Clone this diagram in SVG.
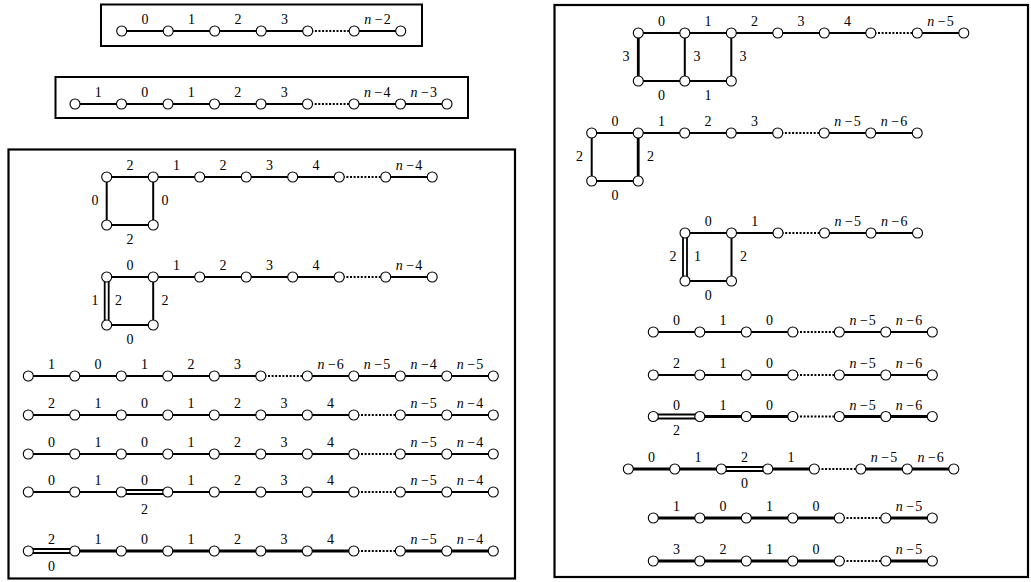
<svg xmlns="http://www.w3.org/2000/svg" width="1031" height="582" viewBox="0 0 1031 582">
<style>
text{font-family:"Liberation Serif","DejaVu Serif",serif;font-size:14px;text-anchor:middle;fill:#000}
.i{font-style:italic}
.box{fill:none;stroke:#000;stroke-width:2.2}
.bs{fill:none;stroke:#000;stroke-width:2}
#edges path{fill:none;stroke:#000;stroke-width:2}
#edges path.t{stroke-width:2.8}
#edges path.d{stroke-dasharray:2 1.6;stroke-width:2}
#edges path.w{stroke-width:1.8}
circle{fill:#fff;stroke:#000;stroke-width:1.1}
</style>
<rect class="bs" x="101" y="4.5" width="321" height="41.5"/>
<rect class="bs" x="55.5" y="77" width="412.5" height="41"/>
<rect class="box" x="8.5" y="149.5" width="506.5" height="429"/>
<rect class="box" x="554.5" y="5" width="473.5" height="572"/>
<g id="edges">
<!-- box1 -->
<path d="M121.7 31H168.2"/><path d="M168.2 31H214.7"/><path d="M214.7 31H261.2"/><path d="M261.2 31H307.7"/><path class="d" d="M307.7 31H354.2"/><path d="M354.2 31H400.7"/>
<!-- box2 -->
<path d="M75 104H121.5"/><path d="M121.5 104H168"/><path d="M168 104H214.5"/><path d="M214.5 104H261"/><path d="M261 104H307.5"/><path class="d" d="M307.5 104H354"/><path d="M354 104H400.5"/><path d="M400.5 104H447"/>
<!-- LS1 -->
<path d="M106.7 177H153.2"/><path d="M153.2 177H199.7"/><path d="M199.7 177H246.2"/><path d="M246.2 177H292.7"/><path d="M292.7 177H339.2"/><path class="d" d="M339.2 177H385.7"/><path d="M385.7 177H432.2"/>
<path d="M106.7 177V225"/><path d="M153.2 177V225"/><path d="M106.7 225H153.2"/>
<!-- LS2 -->
<path d="M106.7 277H153.2"/><path d="M153.2 277H199.7"/><path d="M199.7 277H246.2"/><path d="M246.2 277H292.7"/><path d="M292.7 277H339.2"/><path class="d" d="M339.2 277H385.7"/><path d="M385.7 277H432.2"/>
<path class="w" d="M104.7 277V325M108.7 277V325"/><path d="M153.2 277V325"/><path d="M106.7 325H153.2"/>
<!-- row A -->
<path d="M28.3 376H74.8"/><path d="M74.8 376H121.3"/><path d="M121.3 376H167.8"/><path d="M167.8 376H214.3"/><path d="M214.3 376H260.8"/><path class="d" d="M260.8 376H307.3"/><path d="M307.3 376H353.8"/><path d="M353.8 376H400.3"/><path d="M400.3 376H446.8"/><path d="M446.8 376H493.3"/>
<!-- row B -->
<path d="M28.3 415H74.8"/><path d="M74.8 415H121.3"/><path d="M121.3 415H167.8"/><path d="M167.8 415H214.3"/><path d="M214.3 415H260.8"/><path d="M260.8 415H307.3"/><path d="M307.3 415H353.8"/><path class="d" d="M353.8 415H400.3"/><path d="M400.3 415H446.8"/><path d="M446.8 415H493.3"/>
<!-- row C -->
<path d="M28.3 454H74.8"/><path d="M74.8 454H121.3"/><path d="M121.3 454H167.8"/><path d="M167.8 454H214.3"/><path d="M214.3 454H260.8"/><path d="M260.8 454H307.3"/><path d="M307.3 454H353.8"/><path class="d" d="M353.8 454H400.3"/><path d="M400.3 454H446.8"/><path d="M446.8 454H493.3"/>
<!-- row D -->
<path d="M28.3 492H74.8"/><path d="M74.8 492H121.3"/><path class="w" d="M121.3 490H167.8M121.3 494H167.8"/><path d="M167.8 492H214.3"/><path d="M214.3 492H260.8"/><path d="M260.8 492H307.3"/><path d="M307.3 492H353.8"/><path class="d" d="M353.8 492H400.3"/><path d="M400.3 492H446.8"/><path d="M446.8 492H493.3"/>
<!-- row E -->
<path class="w" d="M28.3 549H74.8M28.3 553H74.8"/><path class="t" d="M74.8 551H121.3"/><path class="t" d="M121.3 551H167.8"/><path class="t" d="M167.8 551H214.3"/><path class="t" d="M214.3 551H260.8"/><path class="t" d="M260.8 551H307.3"/><path class="t" d="M307.3 551H353.8"/><path class="d" d="M353.8 551H400.3"/><path class="t" d="M400.3 551H446.8"/><path class="t" d="M446.8 551H493.3"/>
<!-- R1 -->
<path d="M638.3 33H684.8"/><path d="M684.8 33H731.3"/><path d="M731.3 33H777.8"/><path d="M777.8 33H824.3"/><path d="M824.3 33H870.8"/><path class="d" d="M870.8 33H917.3"/><path d="M917.3 33H963.8"/>
<path class="t" d="M638.3 33V81"/><path d="M684.8 33V81"/><path d="M731.3 33V81"/><path d="M638.3 81H684.8"/><path d="M684.8 81H731.3"/>
<!-- R2 -->
<path d="M591.7 133H638.2"/><path d="M638.2 133H684.7"/><path d="M684.7 133H731.2"/><path d="M731.2 133H777.7"/><path class="d" d="M777.7 133H824.2"/><path d="M824.2 133H870.7"/><path d="M870.7 133H917.2"/>
<path d="M591.7 133V181"/><path class="t" d="M638.2 133V181"/><path d="M591.7 181H638.2"/>
<!-- R3 -->
<path d="M685 233H731.5"/><path d="M731.5 233H778"/><path class="d" d="M778 233H824.5"/><path d="M824.5 233H871"/><path d="M871 233H917.5"/>
<path class="w" d="M683 233V281M687 233V281"/><path d="M731.5 233V281"/><path d="M685 281H731.5"/>
<!-- R4 -->
<path d="M653.3 332H699.8"/><path d="M699.8 332H746.3"/><path d="M746.3 332H792.8"/><path class="d" d="M792.8 332H839.3"/><path d="M839.3 332H885.8"/><path d="M885.8 332H932.3"/>
<!-- R5 -->
<path d="M653.3 375H699.8"/><path d="M699.8 375H746.3"/><path d="M746.3 375H792.8"/><path class="d" d="M792.8 375H839.3"/><path d="M839.3 375H885.8"/><path d="M885.8 375H932.3"/>
<!-- R6 -->
<path class="w" d="M653.3 414.5H699.8M653.3 418.5H699.8"/><path class="t" d="M699.8 416.5H746.3"/><path class="t" d="M746.3 416.5H792.8"/><path class="d" d="M792.8 416.5H839.3"/><path class="t" d="M839.3 416.5H885.8"/><path class="t" d="M885.8 416.5H932.3"/>
<!-- R7 -->
<path class="t" d="M628.3 469H674.8"/><path class="t" d="M674.8 469H721.3"/><path class="w" d="M721.3 467H767.8M721.3 471H767.8"/><path class="t" d="M767.8 469H814.3"/><path class="d" d="M814.3 469H860.8"/><path class="t" d="M860.8 469H907.3"/><path class="t" d="M907.3 469H953.8"/>
<!-- R8 -->
<path class="t" d="M653.3 518H699.8"/><path class="t" d="M699.8 518H746.3"/><path class="t" d="M746.3 518H792.8"/><path class="t" d="M792.8 518H839.3"/><path class="d" d="M839.3 518H885.8"/><path class="t" d="M885.8 518H932.3"/>
<!-- R9 -->
<path class="t" d="M653.3 561H699.8"/><path class="t" d="M699.8 561H746.3"/><path class="t" d="M746.3 561H792.8"/><path class="t" d="M792.8 561H839.3"/><path class="d" d="M839.3 561H885.8"/><path class="t" d="M885.8 561H932.3"/>
</g>
<g id="labels">
<!-- box1 -->
<text x="145" y="24">0</text><text x="191.5" y="24">1</text><text x="238" y="24">2</text><text x="284.5" y="24">3</text>
<text x="377.5" y="24"><tspan class="i">n</tspan><tspan dx="3.5">−</tspan><tspan dx="1">2</tspan></text>
<!-- box2 -->
<text x="98.3" y="97">1</text><text x="144.8" y="97">0</text><text x="191.3" y="97">1</text><text x="237.8" y="97">2</text><text x="284.3" y="97">3</text>
<text x="377.3" y="97"><tspan class="i">n</tspan><tspan dx="3.5">−</tspan><tspan dx="1">4</tspan></text>
<text x="423.8" y="97"><tspan class="i">n</tspan><tspan dx="3.5">−</tspan><tspan dx="1">3</tspan></text>
<!-- LS1 -->
<text x="130" y="170">2</text><text x="176.5" y="170">1</text><text x="223" y="170">2</text><text x="269.5" y="170">3</text><text x="316" y="170">4</text>
<text x="409" y="170"><tspan class="i">n</tspan><tspan dx="3.5">−</tspan><tspan dx="1">4</tspan></text>
<text x="95" y="205">0</text><text x="165" y="205">0</text><text x="130" y="244">2</text>
<!-- LS2 -->
<text x="130" y="270">0</text><text x="176.5" y="270">1</text><text x="223" y="270">2</text><text x="269.5" y="270">3</text><text x="316" y="270">4</text>
<text x="409" y="270"><tspan class="i">n</tspan><tspan dx="3.5">−</tspan><tspan dx="1">4</tspan></text>
<text x="95" y="305">1</text><text x="118.5" y="305">2</text><text x="165" y="305">2</text><text x="130" y="344">0</text>
<!-- row A -->
<text x="51.6" y="369">1</text><text x="98" y="369">0</text><text x="144.6" y="369">1</text><text x="191" y="369">2</text><text x="237.6" y="369">3</text>
<text x="330.6" y="369"><tspan class="i">n</tspan><tspan dx="3.5">−</tspan><tspan dx="1">6</tspan></text>
<text x="377" y="369"><tspan class="i">n</tspan><tspan dx="3.5">−</tspan><tspan dx="1">5</tspan></text>
<text x="423.6" y="369"><tspan class="i">n</tspan><tspan dx="3.5">−</tspan><tspan dx="1">4</tspan></text>
<text x="470" y="369"><tspan class="i">n</tspan><tspan dx="3.5">−</tspan><tspan dx="1">5</tspan></text>
<!-- row B -->
<text x="51.6" y="408">2</text><text x="98" y="408">1</text><text x="144.6" y="408">0</text><text x="191" y="408">1</text><text x="237.6" y="408">2</text><text x="284" y="408">3</text><text x="330.6" y="408">4</text>
<text x="423.6" y="408"><tspan class="i">n</tspan><tspan dx="3.5">−</tspan><tspan dx="1">5</tspan></text>
<text x="470" y="408"><tspan class="i">n</tspan><tspan dx="3.5">−</tspan><tspan dx="1">4</tspan></text>
<!-- row C -->
<text x="51.6" y="447">0</text><text x="98" y="447">1</text><text x="144.6" y="447">0</text><text x="191" y="447">1</text><text x="237.6" y="447">2</text><text x="284" y="447">3</text><text x="330.6" y="447">4</text>
<text x="423.6" y="447"><tspan class="i">n</tspan><tspan dx="3.5">−</tspan><tspan dx="1">5</tspan></text>
<text x="470" y="447"><tspan class="i">n</tspan><tspan dx="3.5">−</tspan><tspan dx="1">4</tspan></text>
<!-- row D -->
<text x="51.6" y="485">0</text><text x="98" y="485">1</text><text x="144.6" y="485">0</text><text x="144.6" y="514">2</text><text x="191" y="485">1</text><text x="237.6" y="485">2</text><text x="284" y="485">3</text><text x="330.6" y="485">4</text>
<text x="423.6" y="485"><tspan class="i">n</tspan><tspan dx="3.5">−</tspan><tspan dx="1">5</tspan></text>
<text x="470" y="485"><tspan class="i">n</tspan><tspan dx="3.5">−</tspan><tspan dx="1">4</tspan></text>
<!-- row E -->
<text x="51.6" y="544">2</text><text x="51.6" y="571">0</text><text x="98" y="544">1</text><text x="144.6" y="544">0</text><text x="191" y="544">1</text><text x="237.6" y="544">2</text><text x="284" y="544">3</text><text x="330.6" y="544">4</text>
<text x="423.6" y="544"><tspan class="i">n</tspan><tspan dx="3.5">−</tspan><tspan dx="1">5</tspan></text>
<text x="470" y="544"><tspan class="i">n</tspan><tspan dx="3.5">−</tspan><tspan dx="1">4</tspan></text>
<!-- R1 -->
<text x="661.5" y="26">0</text><text x="708" y="26">1</text><text x="754.5" y="26">2</text><text x="801" y="26">3</text><text x="847.5" y="26">4</text>
<text x="940.5" y="26"><tspan class="i">n</tspan><tspan dx="3.5">−</tspan><tspan dx="1">5</tspan></text>
<text x="626" y="61">3</text><text x="697" y="61">3</text><text x="743" y="61">3</text>
<text x="661.5" y="100">0</text><text x="708" y="100">1</text>
<!-- R2 -->
<text x="615" y="126">0</text><text x="661.5" y="126">1</text><text x="708" y="126">2</text><text x="754.5" y="126">3</text>
<text x="847.5" y="126"><tspan class="i">n</tspan><tspan dx="3.5">−</tspan><tspan dx="1">5</tspan></text>
<text x="894" y="126"><tspan class="i">n</tspan><tspan dx="3.5">−</tspan><tspan dx="1">6</tspan></text>
<text x="579.5" y="161">2</text><text x="650.5" y="161">2</text><text x="615" y="200">0</text>
<!-- R3 -->
<text x="708.3" y="226">0</text><text x="754.8" y="226">1</text>
<text x="847.8" y="226"><tspan class="i">n</tspan><tspan dx="3.5">−</tspan><tspan dx="1">5</tspan></text>
<text x="894.3" y="226"><tspan class="i">n</tspan><tspan dx="3.5">−</tspan><tspan dx="1">6</tspan></text>
<text x="673" y="261">2</text><text x="697.5" y="261">1</text><text x="743.5" y="261">2</text><text x="708.3" y="300">0</text>
<!-- R4 -->
<text x="676.6" y="325">0</text><text x="723" y="325">1</text><text x="769.6" y="325">0</text>
<text x="862.6" y="325"><tspan class="i">n</tspan><tspan dx="3.5">−</tspan><tspan dx="1">5</tspan></text>
<text x="909" y="325"><tspan class="i">n</tspan><tspan dx="3.5">−</tspan><tspan dx="1">6</tspan></text>
<!-- R5 -->
<text x="676.6" y="368">2</text><text x="723" y="368">1</text><text x="769.6" y="368">0</text>
<text x="862.6" y="368"><tspan class="i">n</tspan><tspan dx="3.5">−</tspan><tspan dx="1">5</tspan></text>
<text x="909" y="368"><tspan class="i">n</tspan><tspan dx="3.5">−</tspan><tspan dx="1">6</tspan></text>
<!-- R6 -->
<text x="676.6" y="409.5">0</text><text x="676.6" y="435">2</text><text x="723" y="409.5">1</text><text x="769.6" y="409.5">0</text>
<text x="862.6" y="409.5"><tspan class="i">n</tspan><tspan dx="3.5">−</tspan><tspan dx="1">5</tspan></text>
<text x="909" y="409.5"><tspan class="i">n</tspan><tspan dx="3.5">−</tspan><tspan dx="1">6</tspan></text>
<!-- R7 -->
<text x="651.6" y="462">0</text><text x="698" y="462">1</text><text x="744.6" y="462">2</text><text x="744.6" y="488">0</text><text x="791" y="462">1</text>
<text x="884" y="462"><tspan class="i">n</tspan><tspan dx="3.5">−</tspan><tspan dx="1">5</tspan></text>
<text x="930.6" y="462"><tspan class="i">n</tspan><tspan dx="3.5">−</tspan><tspan dx="1">6</tspan></text>
<!-- R8 -->
<text x="676.6" y="511">1</text><text x="723" y="511">0</text><text x="769.6" y="511">1</text><text x="816" y="511">0</text>
<text x="909" y="511"><tspan class="i">n</tspan><tspan dx="3.5">−</tspan><tspan dx="1">5</tspan></text>
<!-- R9 -->
<text x="676.6" y="554">3</text><text x="723" y="554">2</text><text x="769.6" y="554">1</text><text x="816" y="554">0</text>
<text x="909" y="554"><tspan class="i">n</tspan><tspan dx="3.5">−</tspan><tspan dx="1">5</tspan></text>
</g>
<g id="nodes">
<g id="b1n1"><circle cx="121.7" cy="31" r="5"/></g><g id="b1n2"><circle cx="168.2" cy="31" r="5"/></g><g id="b1n3"><circle cx="214.7" cy="31" r="5"/></g><g id="b1n4"><circle cx="261.2" cy="31" r="5"/></g><g id="b1n5"><circle cx="307.7" cy="31" r="5"/></g><g id="b1n6"><circle cx="354.2" cy="31" r="5"/></g><g id="b1n7"><circle cx="400.7" cy="31" r="5"/></g>
<g id="b2n1"><circle cx="75" cy="104" r="5"/></g><g id="b2n2"><circle cx="121.5" cy="104" r="5"/></g><g id="b2n3"><circle cx="168" cy="104" r="5"/></g><g id="b2n4"><circle cx="214.5" cy="104" r="5"/></g><g id="b2n5"><circle cx="261" cy="104" r="5"/></g><g id="b2n6"><circle cx="307.5" cy="104" r="5"/></g><g id="b2n7"><circle cx="354" cy="104" r="5"/></g><g id="b2n8"><circle cx="400.5" cy="104" r="5"/></g><g id="b2n9"><circle cx="447" cy="104" r="5"/></g>
<g id="s1n1"><circle cx="106.7" cy="177" r="5"/></g><g id="s1n2"><circle cx="153.2" cy="177" r="5"/></g><g id="s1n3"><circle cx="199.7" cy="177" r="5"/></g><g id="s1n4"><circle cx="246.2" cy="177" r="5"/></g><g id="s1n5"><circle cx="292.7" cy="177" r="5"/></g><g id="s1n6"><circle cx="339.2" cy="177" r="5"/></g><g id="s1n7"><circle cx="385.7" cy="177" r="5"/></g><g id="s1n8"><circle cx="432.2" cy="177" r="5"/></g><g id="s1n9"><circle cx="106.7" cy="225" r="5"/></g><g id="s1n10"><circle cx="153.2" cy="225" r="5"/></g>
<g id="s2n1"><circle cx="106.7" cy="277" r="5"/></g><g id="s2n2"><circle cx="153.2" cy="277" r="5"/></g><g id="s2n3"><circle cx="199.7" cy="277" r="5"/></g><g id="s2n4"><circle cx="246.2" cy="277" r="5"/></g><g id="s2n5"><circle cx="292.7" cy="277" r="5"/></g><g id="s2n6"><circle cx="339.2" cy="277" r="5"/></g><g id="s2n7"><circle cx="385.7" cy="277" r="5"/></g><g id="s2n8"><circle cx="432.2" cy="277" r="5"/></g><g id="s2n9"><circle cx="106.7" cy="325" r="5"/></g><g id="s2n10"><circle cx="153.2" cy="325" r="5"/></g>
<g id="an1"><circle cx="28.3" cy="376" r="5"/></g><g id="an2"><circle cx="74.8" cy="376" r="5"/></g><g id="an3"><circle cx="121.3" cy="376" r="5"/></g><g id="an4"><circle cx="167.8" cy="376" r="5"/></g><g id="an5"><circle cx="214.3" cy="376" r="5"/></g><g id="an6"><circle cx="260.8" cy="376" r="5"/></g><g id="an7"><circle cx="307.3" cy="376" r="5"/></g><g id="an8"><circle cx="353.8" cy="376" r="5"/></g><g id="an9"><circle cx="400.3" cy="376" r="5"/></g><g id="an10"><circle cx="446.8" cy="376" r="5"/></g><g id="an11"><circle cx="493.3" cy="376" r="5"/></g>
<g id="bn1"><circle cx="28.3" cy="415" r="5"/></g><g id="bn2"><circle cx="74.8" cy="415" r="5"/></g><g id="bn3"><circle cx="121.3" cy="415" r="5"/></g><g id="bn4"><circle cx="167.8" cy="415" r="5"/></g><g id="bn5"><circle cx="214.3" cy="415" r="5"/></g><g id="bn6"><circle cx="260.8" cy="415" r="5"/></g><g id="bn7"><circle cx="307.3" cy="415" r="5"/></g><g id="bn8"><circle cx="353.8" cy="415" r="5"/></g><g id="bn9"><circle cx="400.3" cy="415" r="5"/></g><g id="bn10"><circle cx="446.8" cy="415" r="5"/></g><g id="bn11"><circle cx="493.3" cy="415" r="5"/></g>
<g id="cn1"><circle cx="28.3" cy="454" r="5"/></g><g id="cn2"><circle cx="74.8" cy="454" r="5"/></g><g id="cn3"><circle cx="121.3" cy="454" r="5"/></g><g id="cn4"><circle cx="167.8" cy="454" r="5"/></g><g id="cn5"><circle cx="214.3" cy="454" r="5"/></g><g id="cn6"><circle cx="260.8" cy="454" r="5"/></g><g id="cn7"><circle cx="307.3" cy="454" r="5"/></g><g id="cn8"><circle cx="353.8" cy="454" r="5"/></g><g id="cn9"><circle cx="400.3" cy="454" r="5"/></g><g id="cn10"><circle cx="446.8" cy="454" r="5"/></g><g id="cn11"><circle cx="493.3" cy="454" r="5"/></g>
<g id="dn1"><circle cx="28.3" cy="492" r="5"/></g><g id="dn2"><circle cx="74.8" cy="492" r="5"/></g><g id="dn3"><circle cx="121.3" cy="492" r="5"/></g><g id="dn4"><circle cx="167.8" cy="492" r="5"/></g><g id="dn5"><circle cx="214.3" cy="492" r="5"/></g><g id="dn6"><circle cx="260.8" cy="492" r="5"/></g><g id="dn7"><circle cx="307.3" cy="492" r="5"/></g><g id="dn8"><circle cx="353.8" cy="492" r="5"/></g><g id="dn9"><circle cx="400.3" cy="492" r="5"/></g><g id="dn10"><circle cx="446.8" cy="492" r="5"/></g><g id="dn11"><circle cx="493.3" cy="492" r="5"/></g>
<g id="en1"><circle cx="28.3" cy="551" r="5"/></g><g id="en2"><circle cx="74.8" cy="551" r="5"/></g><g id="en3"><circle cx="121.3" cy="551" r="5"/></g><g id="en4"><circle cx="167.8" cy="551" r="5"/></g><g id="en5"><circle cx="214.3" cy="551" r="5"/></g><g id="en6"><circle cx="260.8" cy="551" r="5"/></g><g id="en7"><circle cx="307.3" cy="551" r="5"/></g><g id="en8"><circle cx="353.8" cy="551" r="5"/></g><g id="en9"><circle cx="400.3" cy="551" r="5"/></g><g id="en10"><circle cx="446.8" cy="551" r="5"/></g><g id="en11"><circle cx="493.3" cy="551" r="5"/></g>
<g id="r1n1"><circle cx="638.3" cy="33" r="5"/></g><g id="r1n2"><circle cx="684.8" cy="33" r="5"/></g><g id="r1n3"><circle cx="731.3" cy="33" r="5"/></g><g id="r1n4"><circle cx="777.8" cy="33" r="5"/></g><g id="r1n5"><circle cx="824.3" cy="33" r="5"/></g><g id="r1n6"><circle cx="870.8" cy="33" r="5"/></g><g id="r1n7"><circle cx="917.3" cy="33" r="5"/></g><g id="r1n8"><circle cx="963.8" cy="33" r="5"/></g><g id="r1n9"><circle cx="638.3" cy="81" r="5"/></g><g id="r1n10"><circle cx="684.8" cy="81" r="5"/></g><g id="r1n11"><circle cx="731.3" cy="81" r="5"/></g>
<g id="r2n1"><circle cx="591.7" cy="133" r="5"/></g><g id="r2n2"><circle cx="638.2" cy="133" r="5"/></g><g id="r2n3"><circle cx="684.7" cy="133" r="5"/></g><g id="r2n4"><circle cx="731.2" cy="133" r="5"/></g><g id="r2n5"><circle cx="777.7" cy="133" r="5"/></g><g id="r2n6"><circle cx="824.2" cy="133" r="5"/></g><g id="r2n7"><circle cx="870.7" cy="133" r="5"/></g><g id="r2n8"><circle cx="917.2" cy="133" r="5"/></g><g id="r2n9"><circle cx="591.7" cy="181" r="5"/></g><g id="r2n10"><circle cx="638.2" cy="181" r="5"/></g>
<g id="r3n1"><circle cx="685" cy="233" r="5"/></g><g id="r3n2"><circle cx="731.5" cy="233" r="5"/></g><g id="r3n3"><circle cx="778" cy="233" r="5"/></g><g id="r3n4"><circle cx="824.5" cy="233" r="5"/></g><g id="r3n5"><circle cx="871" cy="233" r="5"/></g><g id="r3n6"><circle cx="917.5" cy="233" r="5"/></g><g id="r3n7"><circle cx="685" cy="281" r="5"/></g><g id="r3n8"><circle cx="731.5" cy="281" r="5"/></g>
<g id="r4n1"><circle cx="653.3" cy="332" r="5"/></g><g id="r4n2"><circle cx="699.8" cy="332" r="5"/></g><g id="r4n3"><circle cx="746.3" cy="332" r="5"/></g><g id="r4n4"><circle cx="792.8" cy="332" r="5"/></g><g id="r4n5"><circle cx="839.3" cy="332" r="5"/></g><g id="r4n6"><circle cx="885.8" cy="332" r="5"/></g><g id="r4n7"><circle cx="932.3" cy="332" r="5"/></g>
<g id="r5n1"><circle cx="653.3" cy="375" r="5"/></g><g id="r5n2"><circle cx="699.8" cy="375" r="5"/></g><g id="r5n3"><circle cx="746.3" cy="375" r="5"/></g><g id="r5n4"><circle cx="792.8" cy="375" r="5"/></g><g id="r5n5"><circle cx="839.3" cy="375" r="5"/></g><g id="r5n6"><circle cx="885.8" cy="375" r="5"/></g><g id="r5n7"><circle cx="932.3" cy="375" r="5"/></g>
<g id="r6n1"><circle cx="653.3" cy="416.5" r="5"/></g><g id="r6n2"><circle cx="699.8" cy="416.5" r="5"/></g><g id="r6n3"><circle cx="746.3" cy="416.5" r="5"/></g><g id="r6n4"><circle cx="792.8" cy="416.5" r="5"/></g><g id="r6n5"><circle cx="839.3" cy="416.5" r="5"/></g><g id="r6n6"><circle cx="885.8" cy="416.5" r="5"/></g><g id="r6n7"><circle cx="932.3" cy="416.5" r="5"/></g>
<g id="r7n1"><circle cx="628.3" cy="469" r="5"/></g><g id="r7n2"><circle cx="674.8" cy="469" r="5"/></g><g id="r7n3"><circle cx="721.3" cy="469" r="5"/></g><g id="r7n4"><circle cx="767.8" cy="469" r="5"/></g><g id="r7n5"><circle cx="814.3" cy="469" r="5"/></g><g id="r7n6"><circle cx="860.8" cy="469" r="5"/></g><g id="r7n7"><circle cx="907.3" cy="469" r="5"/></g><g id="r7n8"><circle cx="953.8" cy="469" r="5"/></g>
<g id="r8n1"><circle cx="653.3" cy="518" r="5"/></g><g id="r8n2"><circle cx="699.8" cy="518" r="5"/></g><g id="r8n3"><circle cx="746.3" cy="518" r="5"/></g><g id="r8n4"><circle cx="792.8" cy="518" r="5"/></g><g id="r8n5"><circle cx="839.3" cy="518" r="5"/></g><g id="r8n6"><circle cx="885.8" cy="518" r="5"/></g><g id="r8n7"><circle cx="932.3" cy="518" r="5"/></g>
<g id="r9n1"><circle cx="653.3" cy="561" r="5"/></g><g id="r9n2"><circle cx="699.8" cy="561" r="5"/></g><g id="r9n3"><circle cx="746.3" cy="561" r="5"/></g><g id="r9n4"><circle cx="792.8" cy="561" r="5"/></g><g id="r9n5"><circle cx="839.3" cy="561" r="5"/></g><g id="r9n6"><circle cx="885.8" cy="561" r="5"/></g><g id="r9n7"><circle cx="932.3" cy="561" r="5"/></g>
</g>
</svg>
